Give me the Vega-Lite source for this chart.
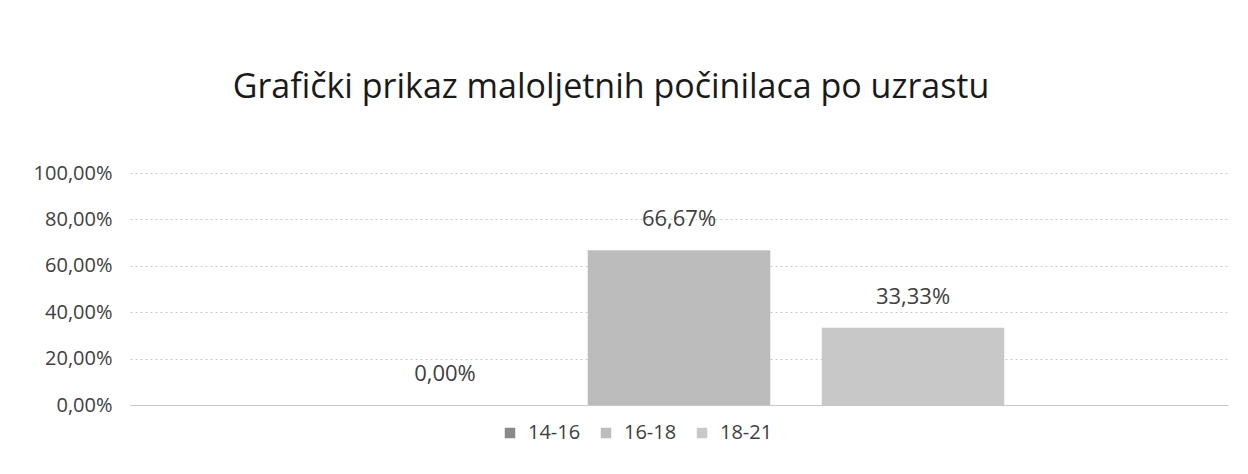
{
  "$schema": "https://vega.github.io/schema/vega-lite/v6.json",
  "width": 1098,
  "height": 232,
  "autosize": "none",
  "padding": {"left": 130, "top": 173, "right": 20, "bottom": 69},
  "background": "white",
  "title": {
    "text": "Grafički prikaz maloljetnih počinilaca po uzrastu",
    "font": "Open Sans",
    "fontSize": 34,
    "fontWeight": "normal",
    "color": "#1a1a1a",
    "anchor": "middle",
    "dx": -68,
    "offset": 58
  },
  "data": {
    "values": [
      {"uzrast": "14-16", "udio": 0.0},
      {"uzrast": "16-18", "udio": 0.6667},
      {"uzrast": "18-21", "udio": 0.3333}
    ]
  },
  "encoding": {
    "x": {
      "field": "uzrast",
      "type": "nominal",
      "scale": {"paddingInner": 0.22, "paddingOuter": 0.956},
      "axis": {"title": null, "labels": false, "ticks": false, "domain": true, "domainColor": "#c8c8c8", "grid": false}
    },
    "y": {
      "field": "udio",
      "type": "quantitative",
      "scale": {"domain": [0, 1]},
      "axis": {
        "title": null,
        "values": [0, 0.2, 0.4, 0.6, 0.8, 1],
        "labelExpr": "replace(format(datum.value, '.2%'), '.', ',')",
        "labelFont": "Open Sans",
        "labelFontSize": 20,
        "labelColor": "#404040",
        "labelPadding": 18,
        "domain": false,
        "ticks": false,
        "gridColor": "#c8c8c8",
        "gridDash": [2, 3]
      }
    }
  },
  "layer": [
    {
      "mark": {"type": "bar"},
      "encoding": {
        "color": {
          "field": "uzrast",
          "type": "nominal",
          "scale": {"domain": ["14-16", "16-18", "18-21"], "range": ["#8a8a8a", "#bcbcbc", "#c8c8c8"]},
          "legend": {
            "title": null,
            "orient": "none",
            "direction": "horizontal",
            "legendX": 370,
            "legendY": 250,
            "symbolType": "square",
            "symbolSize": 110,
            "symbolOpacity": 1,
            "labelFont": "Open Sans",
            "labelFontSize": 20,
            "labelColor": "#404040",
            "columnPadding": 15,
            "labelOffset": 8
          }
        }
      }
    },
    {
      "mark": {"type": "text", "baseline": "bottom", "dy": -19, "font": "Open Sans", "fontSize": 22, "color": "#404040"},
      "encoding": {
        "text": {"field": "udio", "type": "quantitative", "format": ".2%"}
      }
    }
  ],
  "config": {"view": {"stroke": null}, "locale": {"number": {"decimal": ",", "thousands": ".", "grouping": [3], "currency": ["", " KM"]}}}
}
